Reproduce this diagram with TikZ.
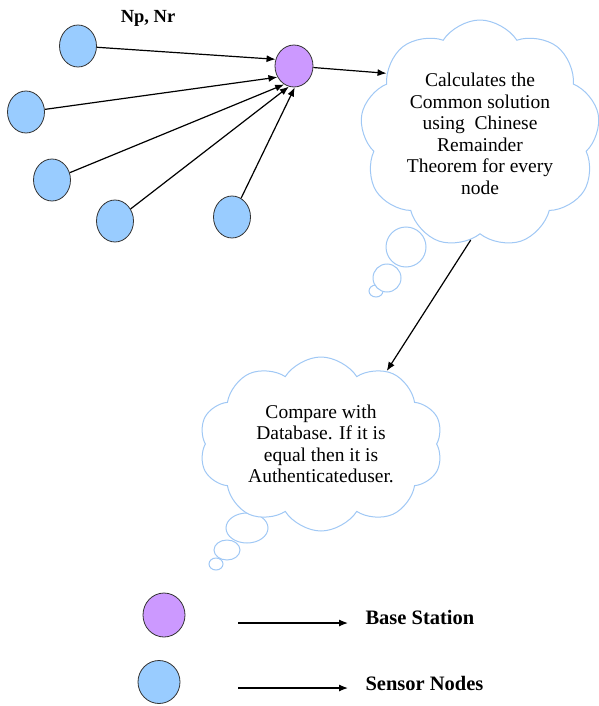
\documentclass[tikz,border=0pt]{standalone}
\usepackage{fontspec}
\setmainfont{Liberation Serif}
\usetikzlibrary{arrows.meta,positioning,shapes.geometric,shapes.symbols}
\definecolor{sensorblue}{RGB}{153,204,255}
\definecolor{basepurple}{RGB}{204,153,255}
\definecolor{cloudline}{RGB}{160,200,245}

\begin{document}
\begin{tikzpicture}[%
    x=1pt,y=-1pt,%
    font=\fontsize{19.5}{21.5}\selectfont,%
    sensor/.style={ellipse,draw=black!80,fill=sensorblue,line width=0.8pt,minimum width=37pt,minimum height=42pt,inner sep=0pt},%
    basest/.style={ellipse,draw=black!80,fill=basepurple,line width=0.8pt,minimum width=38pt,minimum height=42pt,inner sep=0pt},%
    link/.style={line width=1.2pt,-{Latex[length=9pt,width=7pt]}},%
    thought/.style={cloud,cloud puffs=10,cloud puff arc=115,cloud ignores aspect,draw=cloudline,fill=white,line width=1pt,align=center,inner sep=0pt},%
    bubble/.style={draw=cloudline,fill=white,line width=1pt},%
    legendtext/.style={anchor=west,font=\fontsize{20.5}{23}\selectfont\bfseries}%
  ]
  \useasboundingbox (0,0) rectangle (599,706);%

  % Nodes
  \node[sensor] (s1) at (78,46) {};%
  \node[sensor] (s2) at (26,112) {};%
  \node[sensor] (s3) at (52,180) {};%
  \node[sensor] (s4) at (115,221) {};%
  \node[sensor] (s5) at (232,217) {};%
  \node[basest] (bs) at (294,66) {};%
  \node[font=\fontsize{18.5}{21}\selectfont\bfseries] (npnr) at (148,18) {Np, Nr};%

  % Thought bubbles
  \draw[bubble] (376,291) ellipse (7pt and 6pt);%
  \draw[bubble] (387,278) ellipse (14pt and 14pt);%
  \draw[bubble] (406,247) ellipse (20pt and 20pt);%
  \draw[bubble] (216,564) ellipse (7pt and 6pt);%
  \draw[bubble] (227,550) ellipse (13pt and 10pt);%
  \draw[bubble] (247,528) ellipse (21pt and 15pt);%

  % Clouds
  \node[thought,cloud puffs=9,minimum width=240pt,minimum height=228pt] (calc) at (480,134)%
    {Calculates the\\Common solution\\using~ Chinese\\Remainder\\Theorem for every\\node};%
  \node[thought,minimum width=244pt,minimum height=174pt] (cmp) at (321,444)%
    {Compare with\\Database. If it is\\equal then it is\\Authenticateduser.};%

  % Lines
  \draw[link] (s1) -- (bs.160);%
  \draw[link] (s2) -- (bs.214);%
  \draw[link] (s3) -- (bs.242);%
  \draw[link] (s4) -- (bs.256);%
  \draw[link] (s5) -- (bs.272);%
  \draw[link] (bs) -- (calc.147);%
  \draw[link] (calc.265) -- (cmp.48);%

  % Legend
  \node[basest,minimum width=42pt,minimum height=44pt] (lbs) at (164,615) {};%
  \node[sensor,minimum width=42pt,minimum height=43pt] (lsn) at (159,682) {};%
  \coordinate (la1) at (238,623);%
  \coordinate (la2) at (348,623);%
  \coordinate (lb1) at (238,688);%
  \coordinate (lb2) at (348,688);%
  \node[legendtext] (lbsname) at (362,617) {Base Station};%
  \node[legendtext] (lsnname) at (362,683) {Sensor Nodes};%
  \draw[link] (la1) -- (la2);%
  \draw[link] (lb1) -- (lb2);%
\end{tikzpicture}
\end{document}
